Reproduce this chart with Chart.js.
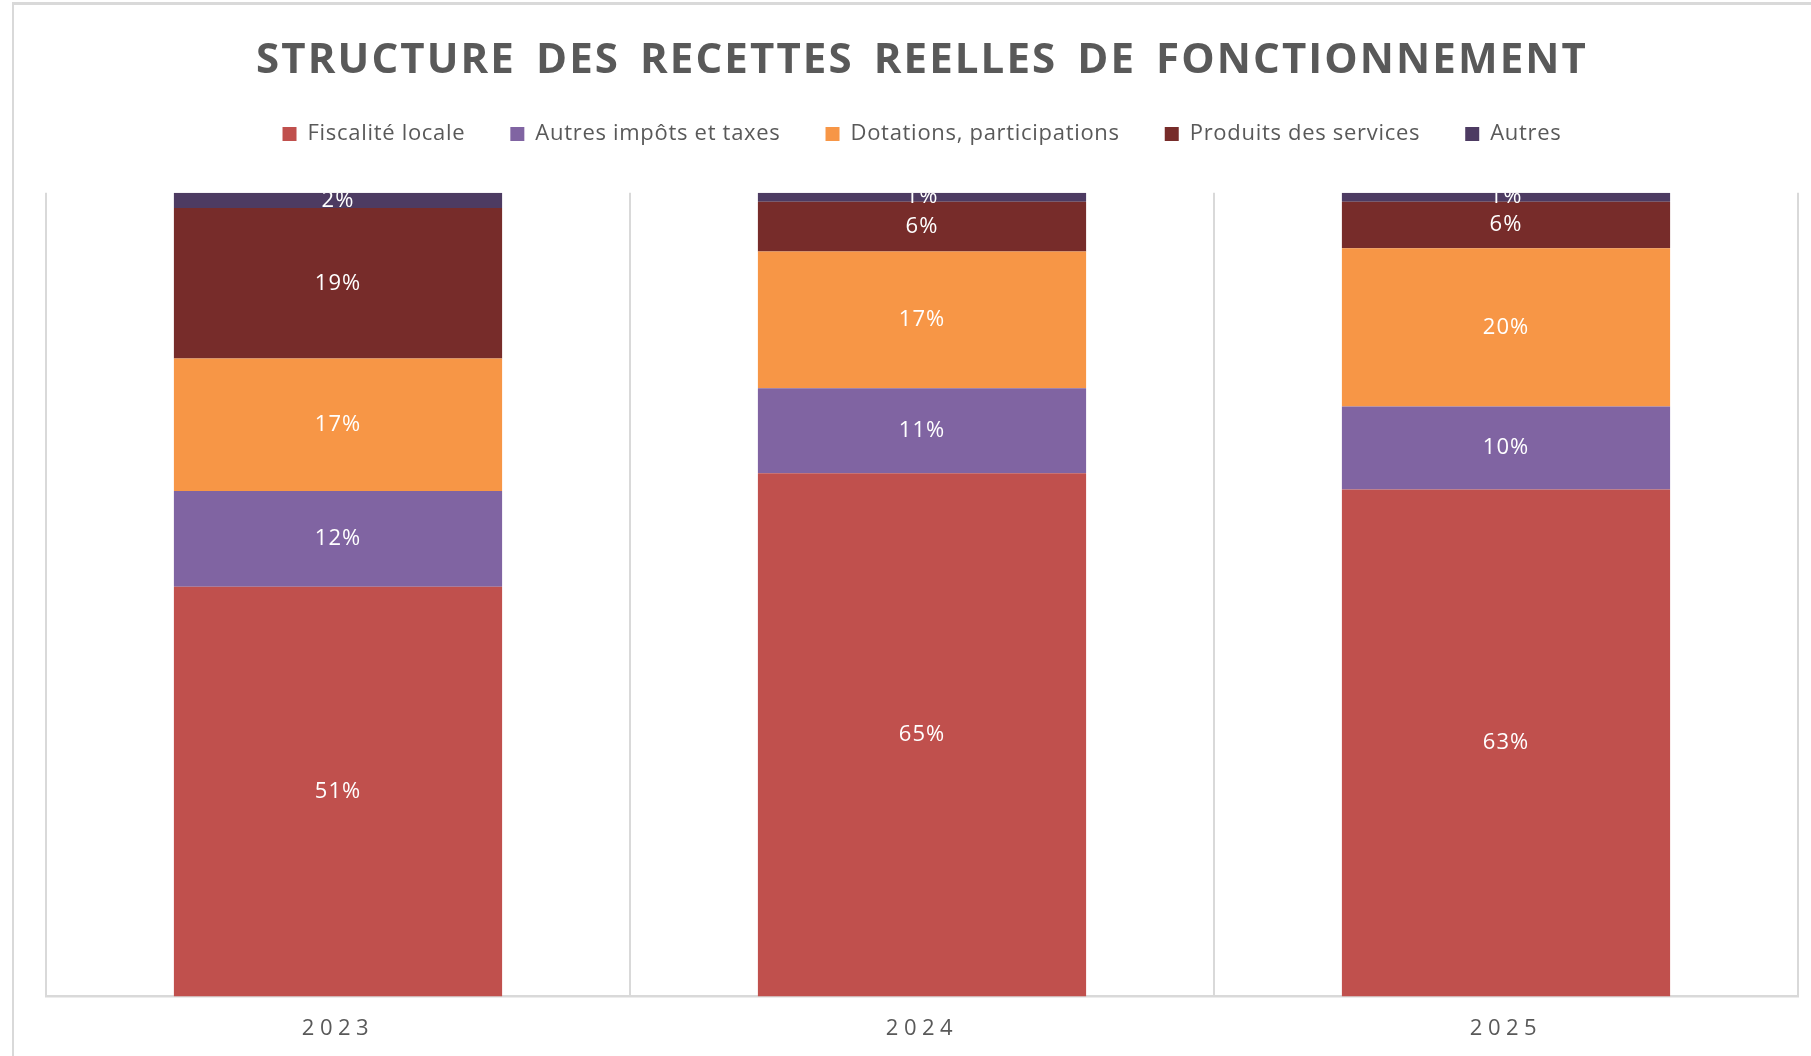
<!DOCTYPE html>
<html>
<head>
<meta charset="utf-8">
<script src="https://cdn.jsdelivr.net/npm/chart.js@4.4.1/dist/chart.umd.min.js"></script>
<style>
  html, body { margin: 0; padding: 0; background: #ffffff; overflow: hidden; }
  #wrap { position: relative; width: 1811px; height: 1056px; overflow: hidden; }
  #frame { position: absolute; left: 12px; top: 2px; right: -10px; bottom: -10px;
           border-left: 2px solid #d9d9d9; border-top: 3px solid #d9d9d9; }
  canvas { position: absolute; left: 0; top: 0; }
</style>
</head>
<body>
<div id="wrap"><div id="frame"></div><canvas id="c" width="1811" height="1056"></canvas></div>
<script>
// ---- Data ----
const titleText = 'STRUCTURE DES RECETTES REELLES DE FONCTIONNEMENT';
const categories = ['2023', '2024', '2025'];
const seriesNames = ['Fiscalité locale', 'Autres impôts et taxes', 'Dotations, participations', 'Produits des services', 'Autres'];
const fiscaliteLocale = [51.0, 65.1, 63.1];
const autresImpotsTaxes = [11.9, 10.6, 10.3];
const dotationsParticipations = [16.5, 17.0, 19.7];
const produitsServices = [18.7, 6.2, 5.8];
const autres = [1.9, 1.1, 1.1];
const seriesColors = ['#C0504D', '#8064A2', '#F79646', '#772C2A', '#4D3B62'];

const seriesValues = [fiscaliteLocale, autresImpotsTaxes, dotationsParticipations, produitsServices, autres];

function patchSpacing(chart, obj, method, letter, word) {
  if (!obj || obj['__patched_' + method]) return;
  const orig = obj[method];
  obj[method] = function (...args) {
    const ctx = chart.ctx;
    ctx.save();
    ctx.letterSpacing = letter;
    if (word) ctx.wordSpacing = word;
    const r = orig.apply(this, args);
    ctx.restore();
    return r;
  };
  obj['__patched_' + method] = true;
}

const spacingPlugin = {
  id: 'spacing',
  beforeLayout(chart) {
    patchSpacing(chart, chart.titleBlock, 'draw', '2.1px', '7px');
    patchSpacing(chart, chart.legend, 'fit', '0.7px');
    patchSpacing(chart, chart.legend, 'draw', '0.7px');
  },
  beforeDraw(chart) {
    patchSpacing(chart, chart.titleBlock, 'draw', '2.1px', '7px');
    patchSpacing(chart, chart.scales.x, 'drawLabels', '5.5px');
  }
};

const segmentLabels = {
  id: 'segmentLabels',
  afterDatasetsDraw(chart) {
    const { ctx, chartArea } = chart;
    ctx.save();
    ctx.beginPath();
    ctx.rect(chartArea.left, chartArea.top, chartArea.right - chartArea.left, chartArea.bottom - chartArea.top);
    ctx.clip();
    ctx.font = '22px "Open Sans"';
    ctx.fillStyle = '#ffffff';
    ctx.textAlign = 'center';
    ctx.textBaseline = 'middle';
    ctx.letterSpacing = '1px';
    chart.data.datasets.forEach((ds, i) => {
      const meta = chart.getDatasetMeta(i);
      if (meta.hidden) return;
      meta.data.forEach((el, j) => {
        const v = ds.data[j];
        ctx.fillText(Math.round(v) + '%', el.x, (el.y + el.base) / 2);
      });
    });
    ctx.restore();
  }
};

const datasets = seriesNames.map((name, i) => ({
  label: name,
  data: seriesValues[i],
  backgroundColor: seriesColors[i],
  borderWidth: 0,
  categoryPercentage: 1.0,
  barPercentage: 0.562
}));

new Chart(document.getElementById('c'), {
  type: 'bar',
  data: { labels: categories, datasets },
  plugins: [spacingPlugin, segmentLabels],
  options: {
    responsive: false,
    animation: false,
    devicePixelRatio: 1,
    layout: { padding: { left: 46, right: 13, top: 0, bottom: -5 } },
    plugins: {
      title: {
        display: true,
        text: titleText,
        color: '#595959',
        font: { family: 'Open Sans', size: 42, weight: 'bold', lineHeight: 0.786 },
        padding: { top: 45, bottom: 0 }
      },
      subtitle: {
        display: true,
        text: '',
        weight: 500,
        font: { size: 37.8, lineHeight: 1 },
        padding: 0
      },
      legend: {
        display: true,
        position: 'top',
        labels: {
          boxWidth: 14,
          boxHeight: 14,
          padding: 45,
          color: '#595959',
          font: { family: 'Open Sans', size: 22 }
        }
      },
      tooltip: { enabled: false }
    },
    scales: {
      x: {
        stacked: true,
        grid: { display: true, offset: true, color: '#d9d9d9', lineWidth: 2, drawTicks: false },
        border: { display: true, color: '#d9d9d9', width: 2.5 },
        ticks: { color: '#595959', font: { family: 'Open Sans', size: 22 }, padding: 19 }
      },
      y: {
        stacked: true,
        display: false,
        min: 0,
        max: 100
      }
    }
  }
});
</script>
</body>
</html>
